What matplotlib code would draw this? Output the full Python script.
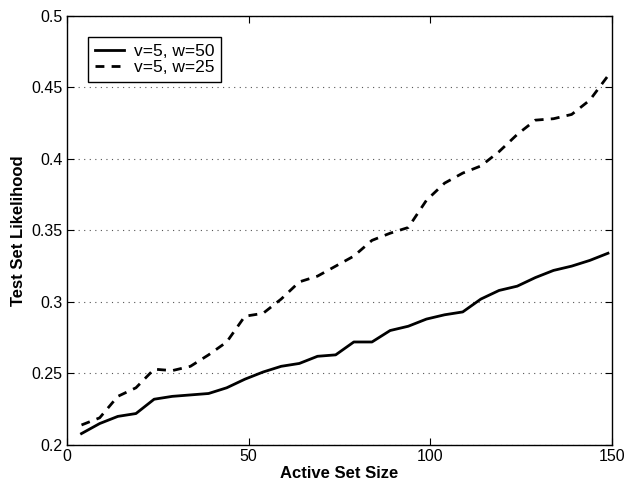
import matplotlib
matplotlib.use("Agg")
import matplotlib.pyplot as plt

x = list(range(4, 150, 5))
solid = [0.208, 0.215, 0.220, 0.222, 0.232, 0.234, 0.235, 0.236, 0.240, 0.246,
         0.251, 0.255, 0.257, 0.262, 0.263, 0.272, 0.272, 0.280, 0.283, 0.288,
         0.291, 0.293, 0.302, 0.308, 0.311, 0.317, 0.322, 0.325, 0.329, 0.334]
dashed = [0.214, 0.219, 0.234, 0.240, 0.253, 0.252, 0.255, 0.263, 0.272, 0.290,
          0.292, 0.302, 0.314, 0.318, 0.325, 0.332, 0.343, 0.348, 0.352, 0.371,
          0.383, 0.390, 0.395, 0.405, 0.417, 0.427, 0.428, 0.431, 0.441, 0.458]
labels = ["v=5, w=50", "v=5, w=25"]
xticks = [0, 50, 100, 150]
yticks = [0.2, 0.25, 0.3, 0.35, 0.4, 0.45, 0.5]
ytick_labels = ["0.2", "0.25", "0.3", "0.35", "0.4", "0.45", "0.5"]

plt.rcParams['font.family'] = ['Liberation Sans', 'DejaVu Sans']

fig = plt.figure(figsize=(6.26, 4.87), dpi=100)
ax = fig.add_axes([0.107, 0.0862, 0.870, 0.8816])
ax.plot(x, solid, color='black', lw=2, linestyle='-', label=labels[0])
ax.plot(x, dashed, color='black', lw=2, linestyle=(0, (3.2, 2.6)), label=labels[1])
ax.set_xlim(0, 150)
ax.set_ylim(0.2, 0.5)
ax.set_xticks(xticks)
ax.set_yticks(yticks)
ax.set_yticklabels(ytick_labels)
ax.yaxis.grid(True, linestyle=(0, (1, 4)), color='#555555', lw=0.8)
ax.tick_params(direction='in', top=True, right=True, labelsize=11.5, length=5, pad=3)
ax.set_xlabel("Active Set Size", fontsize=12, fontweight='bold', labelpad=1)
ax.set_ylabel("Test Set Likelihood", fontsize=12, fontweight='bold', labelpad=4)
for s in ax.spines.values():
    s.set_linewidth(1.0)
leg = ax.legend(loc='upper left', bbox_to_anchor=(0.0386, 0.950), borderaxespad=0,
                fontsize=12.5, fancybox=False, edgecolor='black', framealpha=1,
                handlelength=1.7, handletextpad=0.55, borderpad=0.38,
                labelspacing=0.08)
leg.get_frame().set_linewidth(1.0)
fig.savefig("out.png", dpi=100)
